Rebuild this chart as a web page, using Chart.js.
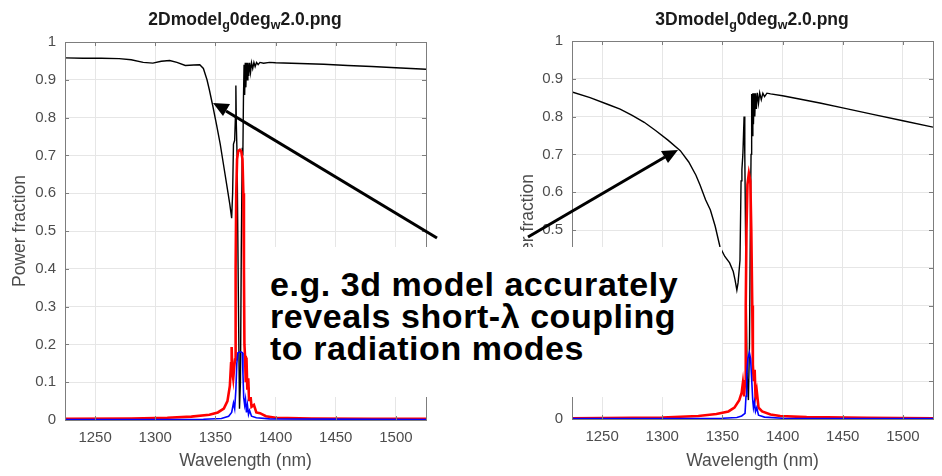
<!DOCTYPE html>
<html>
<head>
<meta charset="utf-8">
<script src="https://cdn.jsdelivr.net/npm/chart.js@4.4.1/dist/chart.umd.min.js"></script>
<style>
body{margin:0;background:#fff;width:942px;height:476px;overflow:hidden;position:relative;font-family:"Liberation Sans",Arial,sans-serif}
canvas{position:absolute;top:0}
#c2d{left:0}
#c3d{left:471px}
.ttl{position:absolute;top:9px;font-weight:bold;font-size:17.5px;color:#1a1a1a;white-space:nowrap;transform:translateX(-50%)}
.ttl sub{font-size:12.5px;vertical-align:-4px;line-height:0}
#note{position:absolute;left:250px;top:247px;width:472px;height:150px;background:#fff;box-sizing:border-box;padding:21px 0 0 20px;
font-weight:bold;font-size:34px;line-height:32px;color:#000;letter-spacing:0.55px;white-space:nowrap}
svg{position:absolute;left:0;top:0}
</style>
</head>
<body>
<canvas id="c2d" width="471" height="476"></canvas>
<canvas id="c3d" width="471" height="476"></canvas>
<div class="ttl" style="left:245px">2Dmodel<sub>g</sub>0deg<sub>w</sub>2.0.png</div>
<div class="ttl" style="left:752px">3Dmodel<sub>g</sub>0deg<sub>w</sub>2.0.png</div>
<div id="note">e.g. 3d model accurately<br>reveals short-λ coupling<br>to radiation modes</div>
<svg width="942" height="476">
<line x1="437" y1="238" x2="226" y2="111" stroke="#000" stroke-width="3"/>
<polygon points="213,103 230,104 223,116" fill="#000"/>
<line x1="528" y1="237" x2="665" y2="157" stroke="#000" stroke-width="3"/>
<polygon points="678,150 668,163 661,151" fill="#000"/>
</svg>
<script>
// ---------- axis ticks ----------
const xTicks = [1250, 1300, 1350, 1400, 1450, 1500]
const yTicks = [0, 0.1, 0.2, 0.3, 0.4, 0.5, 0.6, 0.7, 0.8, 0.9, 1]

// ---------- 2D model ----------
const lam2dK = [1225,1240,1255,1270,1280,1290,1298,1305,1312,1318,1325,1332,1337,1340,1343,1345,1348,1351,1354,1357,1360,1362,1363.5,1364.3,1365,1366,1366.6,1367,1367.4,1368,1369,1370,1370.8,1371.5,1372.3,1372.8,1373.3,1373.8,1374.3,1374.8,1375.3,1375.8,1376.4,1377,1377.7,1378.4,1379.2,1380,1381,1382,1383,1384.2,1385.5,1387,1390,1395,1400,1420,1440,1460,1480,1500,1525]
const pow2dK = [0.958,0.957,0.957,0.956,0.953,0.946,0.944,0.949,0.951,0.946,0.938,0.939,0.940,0.930,0.900,0.873,0.828,0.78,0.73,0.67,0.61,0.57,0.534,0.60,0.73,0.74,0.80,0.885,0.78,0.70,0.35,0.03,0.10,0.45,0.72,0.70,0.85,0.94,0.86,0.945,0.88,0.945,0.90,0.945,0.91,0.945,0.92,0.945,0.93,0.946,0.935,0.946,0.94,0.946,0.944,0.946,0.945,0.943,0.941,0.938,0.935,0.932,0.928]

const lam2dR = [1225,1280,1310,1330,1345,1352,1357,1360,1362,1363,1363.5,1364,1364.8,1365.6,1366.3,1366.8,1367.3,1368,1369,1370.3,1371.5,1372.5,1373.2,1373.7,1374.1,1374.6,1375.2,1375.8,1376.5,1377.3,1378,1379,1380,1382,1384,1387,1392,1400,1430,1480,1525]
const pow2dR = [0.003,0.004,0.006,0.009,0.014,0.02,0.03,0.05,0.09,0.15,0.193,0.13,0.11,0.14,0.16,0.40,0.60,0.69,0.712,0.715,0.71,0.69,0.60,0.40,0.20,0.17,0.10,0.165,0.08,0.11,0.05,0.07,0.035,0.04,0.02,0.018,0.01,0.006,0.004,0.003,0.003]

const lam2dB = [1225,1340,1355,1361,1363.5,1365,1366,1367,1367.8,1368.7,1370,1371.5,1372.3,1372.9,1373.5,1374.3,1375,1375.8,1376.6,1377.5,1378.4,1380,1384,1395,1525]
const pow2dB = [0.001,0.002,0.004,0.01,0.02,0.045,0.03,0.08,0.15,0.178,0.18,0.18,0.178,0.12,0.06,0.04,0.055,0.02,0.04,0.015,0.025,0.01,0.006,0.003,0.001]

// ---------- 3D model ----------
const lam3dK = [1225,1240,1255,1265,1275,1285,1295,1305,1315,1322,1328,1331.4,1336,1340,1344,1348,1352,1356,1359,1360.5,1362,1363,1364.6,1365.5,1366.2,1367,1368,1368.6,1369.5,1370.5,1371.6,1372.5,1373.3,1373.8,1374.3,1374.8,1375.3,1375.8,1376.3,1376.9,1377.5,1378.2,1379,1380,1381,1382.3,1383.6,1385,1387,1390,1400,1415,1431,1450,1475,1500,1525]
const pow3dK = [0.865,0.850,0.832,0.82,0.803,0.785,0.762,0.737,0.710,0.68,0.645,0.619,0.58,0.553,0.51,0.455,0.43,0.413,0.39,0.368,0.341,0.36,0.42,0.63,0.66,0.70,0.80,0.70,0.40,0.12,0.05,0.20,0.55,0.70,0.86,0.75,0.862,0.78,0.862,0.80,0.862,0.82,0.863,0.835,0.863,0.845,0.862,0.853,0.862,0.86,0.855,0.846,0.836,0.823,0.806,0.789,0.772]

const lam3dR = [1225,1300,1330,1345,1355,1360,1364,1366,1367,1368,1368.8,1369.4,1370,1370.8,1372,1373.2,1374,1374.8,1375.3,1376,1376.8,1377.5,1378.5,1380,1383,1390,1398,1420,1470,1525]
const pow3dR = [0.002,0.004,0.008,0.013,0.02,0.03,0.05,0.07,0.095,0.06,0.10,0.30,0.50,0.62,0.65,0.63,0.50,0.30,0.145,0.10,0.13,0.06,0.075,0.03,0.02,0.012,0.008,0.005,0.003,0.002]

const lam3dB = [1225,1350,1362,1366,1368.8,1369.6,1370.2,1371.2,1372.4,1373.4,1374.4,1375.2,1375.8,1376.6,1377.5,1378.5,1380,1385,1400,1525]
const pow3dB = [0.001,0.002,0.004,0.008,0.015,0.06,0.12,0.16,0.176,0.16,0.10,0.05,0.03,0.045,0.02,0.03,0.01,0.005,0.002,0.001]


Chart.defaults.font.family = '"Liberation Sans", Arial, sans-serif'

function pts(xs, ys){
return xs.map((x,i)=>({x:x, y:ys[i]}))
}

// matlab style box with inward ticks
const boxPlugin = {
id:'box',
afterDraw(chart){
const ctx = chart.ctx
const a = chart.chartArea
const sx = chart.scales.x, sy = chart.scales.y
ctx.save()
ctx.strokeStyle = '#7d7d7d'
ctx.lineWidth = 1
ctx.beginPath()
xTicks.forEach(v=>{
let px = Math.round(sx.getPixelForValue(v)) + 0.5
ctx.moveTo(px, a.bottom); ctx.lineTo(px, a.bottom-4)
ctx.moveTo(px, a.top); ctx.lineTo(px, a.top+4)
})
yTicks.forEach(v=>{
let py = Math.round(sy.getPixelForValue(v)) + 0.5
ctx.moveTo(a.left, py); ctx.lineTo(a.left+4, py)
ctx.moveTo(a.right, py); ctx.lineTo(a.right-4, py)
})
ctx.stroke()
ctx.strokeRect(Math.round(a.left)+0.5, Math.round(a.top)+0.5, Math.round(a.right-a.left), Math.round(a.bottom-a.top))
ctx.restore()
}
}

function makeChart(id, k, r, b, opt){

new Chart(document.getElementById(id), {
type:'line',
data:{
datasets:[
{data:pts(k[0],k[1]), borderColor:'#000000', borderWidth:1.4, order:3},
{data:pts(r[0],r[1]), borderColor:'#ff0000', borderWidth:2.6, order:2},
{data:pts(b[0],b[1]), borderColor:'#0000ff', borderWidth:1.6, order:1}
]
},
options:{
responsive:false,
animation:false,
devicePixelRatio:1,
events:[],
layout:{padding:{left:0, right:opt.padRight, top:opt.top, bottom:0}},
elements:{point:{radius:0}, line:{tension:0}},
plugins:{legend:{display:false}, tooltip:{enabled:false}},
scales:{
x:{
type:'linear', min:1225, max:1525,
afterBuildTicks: s => { s.ticks = xTicks.map(v=>({value:v})) },
afterFit: s => { s.height = opt.xAxisH },
grid:{color:'#e6e6e6', drawTicks:false},
border:{display:false},
ticks:{color:'#4d4d4d', font:{size:15}, padding:9, maxRotation:0, callback: v => String(v)},
title:{display:true, text:'Wavelength (nm)', color:'#4d4d4d', font:{size:17.5}, padding:{top:0, bottom:4.5}}
},
y:{
type:'linear', min:0, max:1,
afterBuildTicks: s => { s.ticks = yTicks.map(v=>({value:v})) },
afterFit: s => { s.width = opt.yAxisW },
grid:{color:'#e6e6e6', drawTicks:false},
border:{display:false},
ticks:{color:'#4d4d4d', font:{size:15}, padding:9, callback: v => String(Math.round(v*10)/10)},
title:{display:true, text:'Power fraction', color:'#4d4d4d', font:{size:17.5}, padding:{top:opt.yTitlePad, bottom:0}}
}
}
},
plugins:[boxPlugin]
})

}

makeChart('c2d', [lam2dK,pow2dK], [lam2dR,pow2dR], [lam2dB,pow2dB], {yAxisW:65, padRight:45, top:42, xAxisH:56, yTitlePad:9.5})
makeChart('c3d', [lam3dK,pow3dK], [lam3dR,pow3dR], [lam3dB,pow3dB], {yAxisW:101, padRight:9, top:41, xAxisH:57, yTitlePad:46.5})
</script>
</body>
</html>
